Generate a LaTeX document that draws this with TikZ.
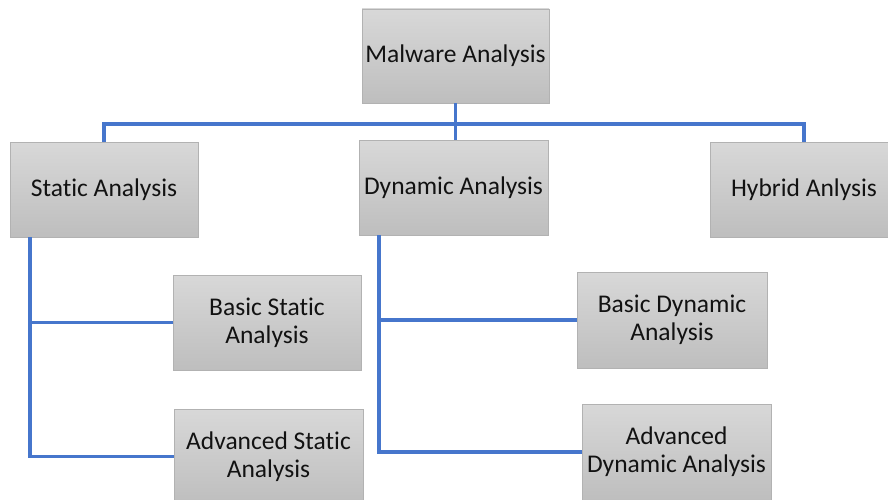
\documentclass[tikz,border=0pt]{standalone}
\usepackage{fontspec}
\setmainfont{Carlito}[Ligatures=NoCommon]
\usetikzlibrary{shadows}
\definecolor{linkblue}{RGB}{70,118,204}
\definecolor{boxtop}{RGB}{216,216,216}
\definecolor{boxbot}{RGB}{190,190,190}
\definecolor{boxedge}{RGB}{178,178,178}
\definecolor{txt}{RGB}{18,18,18}
\tikzset{
  box/.style={rectangle, draw=boxedge, line width=0.8pt, top color=boxtop, bottom color=boxbot,
    minimum width=188pt, minimum height=95pt, inner sep=0pt, align=center, text=txt,
    font=\fontsize{25.5}{28}\selectfont,
    drop shadow={shadow xshift=1.2pt, shadow yshift=-1.2pt, fill=black!25, opacity=0.6}},
  link/.style={draw=linkblue, line width=3.2pt}
}
\begin{document}
\begin{tikzpicture}[x=1pt,y=-1pt]
\useasboundingbox (0,0) rectangle (888,500);
\coordinate (bus) at (455,124);
\coordinate (sl) at (30,237);
\coordinate (dl) at (379,235);
% nodes
\node[box, minimum width=187pt, minimum height=94pt] (mal) at (455.5,56) {Malware Analysis};
\node[box] (stat) at (104,189.5) {Static Analysis};
\node[box, minimum width=189pt] (dyn) at (453.5,187.5) {Dynamic Analysis};
\node[box] (hyb) at (804,189.5) {Hybrid Anlysis};
\node[box] (bs) at (267,322.5) {Basic Static\\Analysis};
\node[box, minimum width=189pt] (as) at (268.5,456.5) {Advanced Static\\Analysis};
\node[box, minimum width=190pt, minimum height=96pt] (bd) at (672,320) {Basic Dynamic\\Analysis};
\node[box, minimum width=189pt, minimum height=96pt] (ad) at (676.5,452) {Advanced\\Dynamic Analysis};
% links
\draw[link] (mal.south) -- (mal.south |- dyn.north);
\draw[link] (stat.north) |- (bus) -| (hyb.north);
\draw[link] (sl) |- (as.west);
\draw[link] (sl |- bs.west) -- (bs.west);
\draw[link] (dl) |- (ad.west);
\draw[link] (dl |- bd.west) -- (bd.west);
\end{tikzpicture}
\end{document}
